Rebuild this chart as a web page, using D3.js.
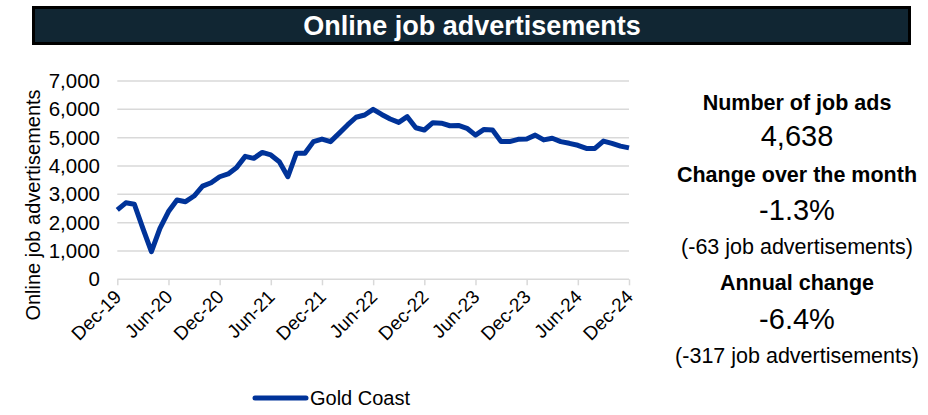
<!DOCTYPE html>
<html>
<head>
<meta charset="utf-8">
<script src="https://cdn.jsdelivr.net/npm/d3@7/dist/d3.min.js"></script>
<style>
  html, body { margin: 0; padding: 0; background: #fff; }
  svg { display: block; font-family: "Liberation Sans", Arial, sans-serif; }
</style>
</head>
<body>
<svg id="chart" width="928" height="415"></svg>
<script>
const title = "Online job advertisements";
const seriesName = "Gold Coast";
const yAxisTitle = "Online job advertisements";
const months = [
  "Dec-19","Jan-20","Feb-20","Mar-20","Apr-20","May-20","Jun-20","Jul-20","Aug-20","Sep-20","Oct-20","Nov-20",
  "Dec-20","Jan-21","Feb-21","Mar-21","Apr-21","May-21","Jun-21","Jul-21","Aug-21","Sep-21","Oct-21","Nov-21",
  "Dec-21","Jan-22","Feb-22","Mar-22","Apr-22","May-22","Jun-22","Jul-22","Aug-22","Sep-22","Oct-22","Nov-22",
  "Dec-22","Jan-23","Feb-23","Mar-23","Apr-23","May-23","Jun-23","Jul-23","Aug-23","Sep-23","Oct-23","Nov-23",
  "Dec-23","Jan-24","Feb-24","Mar-24","Apr-24","May-24","Jun-24","Jul-24","Aug-24","Sep-24","Oct-24","Nov-24",
  "Dec-24"
];
const values = [
  2450, 2700, 2650, 1800, 975, 1800, 2390, 2800, 2740, 2940, 3290, 3410,
  3620, 3720, 3950, 4340, 4270, 4480, 4390, 4150, 3620, 4450, 4450, 4860,
  4950, 4860, 5150, 5450, 5720, 5800, 6000, 5820, 5660, 5540, 5740, 5350,
  5270, 5530, 5510, 5420, 5430, 5330, 5090, 5290, 5270, 4860, 4860, 4940,
  4955, 5090, 4920, 4980, 4860, 4800, 4730, 4620, 4620, 4880, 4800, 4701,
  4638
];
const xTickLabels = ["Dec-19","Jun-20","Dec-20","Jun-21","Dec-21","Jun-22","Dec-22","Jun-23","Dec-23","Jun-24","Dec-24"];
const yTicks = [0, 1000, 2000, 3000, 4000, 5000, 6000, 7000];
const panelLines = [
  { text: "Number of job ads", kind: "head" },
  { text: "4,638", kind: "big" },
  { text: "Change over the month", kind: "head" },
  { text: "-1.3%", kind: "big" },
  { text: "(-63 job advertisements)", kind: "note" },
  { text: "Annual change", kind: "head" },
  { text: "-6.4%", kind: "big" },
  { text: "(-317 job advertisements)", kind: "note" }
];
const panelY = [110, 146, 182, 220, 254, 290, 329, 363];

const svg = d3.select("#chart");
const lineColor = "#003399";
const gridColor = "#d9d9d9";

// Title bar
svg.append("rect").attr("x", 33.5).attr("y", 7.5).attr("width", 876).attr("height", 36)
  .attr("fill", "#112633").attr("stroke", "#000").attr("stroke-width", 3);
svg.append("text").attr("x", 472).attr("y", 35).attr("text-anchor", "middle")
  .attr("fill", "#fff").attr("font-weight", "bold").attr("font-size", 27).text(title);

// Scales
const x = d3.scalePoint().domain(months).range([117.3, 629]);
const y = d3.scaleLinear().domain([0, 7000]).range([279.3, 81]);

// Gridlines
svg.append("g").selectAll("line").data(yTicks.filter(d => d > 0)).join("line")
  .attr("x1", 117.3).attr("x2", 629).attr("y1", d => y(d)).attr("y2", d => y(d))
  .attr("stroke", gridColor).attr("stroke-width", 1.5);

// Y axis
const yAxis = d3.axisLeft(y).tickValues(yTicks).tickFormat(d3.format(",")).tickSize(0).tickPadding(0);
const gy = svg.append("g").attr("transform", "translate(100,0)").call(yAxis);
gy.select(".domain").remove();
gy.selectAll("text").attr("font-size", 20.5).attr("fill", "#000").attr("font-family", "Liberation Sans, Arial, sans-serif");

// X axis
const xAxis = d3.axisBottom(x).tickValues(xTickLabels).tickSize(6).tickPadding(4);
const gx = svg.append("g").attr("transform", `translate(0,${y(0)})`).call(xAxis);
gx.select(".domain").attr("stroke", gridColor).attr("stroke-width", 1.5).attr("d", `M117.3,0H629`);
gx.selectAll(".tick line").attr("stroke", gridColor).attr("stroke-width", 1.5);
gx.selectAll("text").attr("font-size", 19).attr("fill", "#000")
  .attr("font-family", "Liberation Sans, Arial, sans-serif")
  .attr("text-anchor", "end").attr("dy", "0.35em")
  .attr("transform", "translate(-7,7) rotate(-45)");

// Y title
svg.append("text").attr("transform", "translate(40,205) rotate(-90)")
  .attr("text-anchor", "middle").attr("font-size", 20).attr("fill", "#000").text(yAxisTitle);

// Line
const line = d3.line().x((d, i) => x(months[i])).y(d => y(d));
svg.append("path").datum(values).attr("d", line).attr("fill", "none")
  .attr("stroke", lineColor).attr("stroke-width", 5).attr("stroke-linejoin", "round");

// Legend
svg.append("line").attr("x1", 255).attr("x2", 306).attr("y1", 398).attr("y2", 398)
  .attr("stroke", lineColor).attr("stroke-width", 5).attr("stroke-linecap", "round");
svg.append("text").attr("x", 310).attr("y", 405).attr("font-size", 20).attr("fill", "#000").text(seriesName);

// Right panel
svg.append("g").selectAll("text").data(panelLines).join("text")
  .attr("x", 797).attr("y", (d, i) => panelY[i]).attr("text-anchor", "middle").attr("fill", "#000")
  .attr("font-weight", d => d.kind === "head" ? "bold" : "normal")
  .attr("font-size", d => d.kind === "big" ? 29 : 21.5)
  .text(d => d.text);
</script>
</body>
</html>
